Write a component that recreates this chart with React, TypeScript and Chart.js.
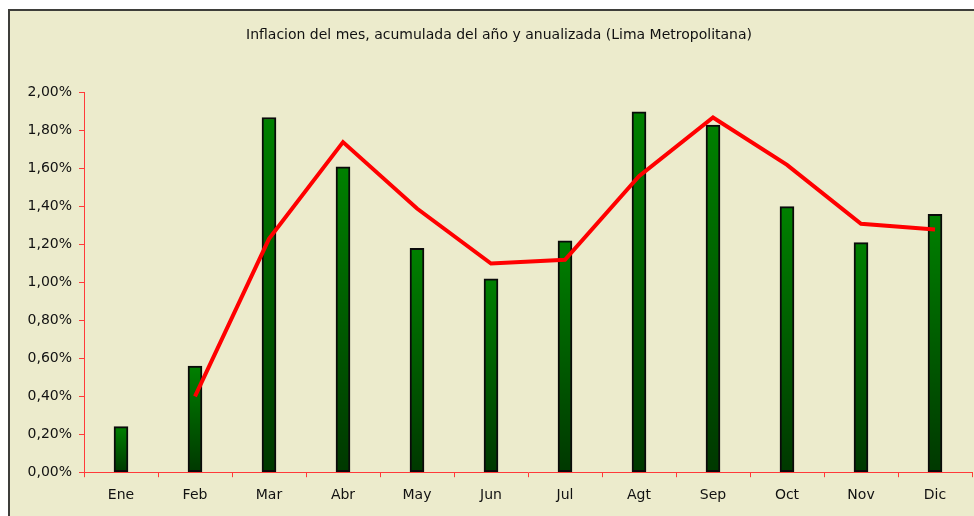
import React, { useEffect, useRef } from "react";
import { Chart, registerables } from "chart.js";

Chart.register(...registerables);

const TITLE = "Inflacion del mes, acumulada del año y anualizada (Lima Metropolitana)";
const MONTHS = ["Ene", "Feb", "Mar", "Abr", "May", "Jun", "Jul", "Agt", "Sep", "Oct", "Nov", "Dic"];
const MONTHLY = [0.24, 0.56, 1.87, 1.61, 1.18, 1.02, 1.22, 1.9, 1.83, 1.4, 1.21, 1.36];
const LINE_VALUES = [null, 0.4, 1.23, 1.74, 1.39, 1.1, 1.12, 1.56, 1.87, 1.62, 1.31, 1.28];
const Y_TICKS = [0, 0.2, 0.4, 0.6, 0.8, 1.0, 1.2, 1.4, 1.6, 1.8, 2.0];

const FONT = "'DejaVu Sans', 'Liberation Sans', Arial, sans-serif";
const AXIS_RED = "#ff3a3a";

export default function App() {
  const ref = useRef<HTMLCanvasElement | null>(null);

  useEffect(() => {
    if (!ref.current) return;
    const chart = new Chart(ref.current, {
      type: "bar",
      data: {
        labels: MONTHS,
        datasets: [
          {
            type: "line",
            data: LINE_VALUES,
            borderColor: "#ff0000",
            borderWidth: 4,
            pointRadius: 0,
            tension: 0,
            spanGaps: false,
            order: 0,
          } as any,
          {
            type: "bar",
            data: MONTHLY,
            barThickness: 14,
            borderWidth: 2,
            borderColor: "#0a0a0a",
            borderSkipped: false,
            order: 1,
            backgroundColor: (ctx: any) => {
              const c = ctx.chart;
              if (!c.chartArea || ctx.type !== "data") return "#006400";
              const y = c.scales.y;
              const top = y.getPixelForValue(ctx.raw);
              const bottom = y.getPixelForValue(0);
              const g = c.ctx.createLinearGradient(0, top, 0, bottom);
              g.addColorStop(0, "#008000");
              g.addColorStop(1, "#003800");
              return g;
            },
          } as any,
        ],
      },
      options: {
        animation: false,
        responsive: false,
        maintainAspectRatio: false,
        devicePixelRatio: 1,
        layout: { padding: { left: 16, right: 2, top: 0, bottom: 2 } },
        plugins: {
          legend: { display: false },
          tooltip: { enabled: false },
          title: {
            display: true,
            text: TITLE,
            color: "#111111",
            font: { family: FONT, size: 14, weight: "normal" as any },
            padding: { top: 16, bottom: 49 },
          },
        },
        scales: {
          x: {
            offset: true,
            grid: {
              offset: true,
              display: true,
              drawOnChartArea: false,
              drawTicks: true,
              tickLength: 5,
              color: AXIS_RED,
            },
            border: { display: true, color: AXIS_RED, width: 1 },
            ticks: {
              color: "#111111",
              font: { family: FONT, size: 14 },
              padding: 10,
              maxRotation: 0,
            },
          },
          y: {
            min: 0,
            max: 2,
            afterBuildTicks: (s: any) => {
              s.ticks = Y_TICKS.map((v) => ({ value: v }));
            },
            afterFit: (s: any) => {
              s.width = 58;
            },
            grid: {
              display: true,
              drawOnChartArea: false,
              drawTicks: true,
              tickLength: 5,
              color: AXIS_RED,
            },
            border: { display: true, color: AXIS_RED, width: 1 },
            ticks: {
              color: "#111111",
              font: { family: FONT, size: 14 },
              padding: 7,
              callback: (v: any) => Number(v).toFixed(2).replace(".", ",") + "%",
            },
          },
        },
      },
    });
    return () => chart.destroy();
  }, []);

  return (
    <div
      style={{
        position: "fixed",
        left: 8,
        top: 9,
        width: 966,
        height: 507,
        boxSizing: "border-box",
        borderTop: "2px solid #3e3e3a",
        borderLeft: "2px solid #3e3e3a",
        background: "#ecebcc",
        overflow: "hidden",
      }}
    >
      <canvas ref={ref} width={964} height={505} style={{ display: "block", width: 964, height: 505 }} />
    </div>
  );
}
